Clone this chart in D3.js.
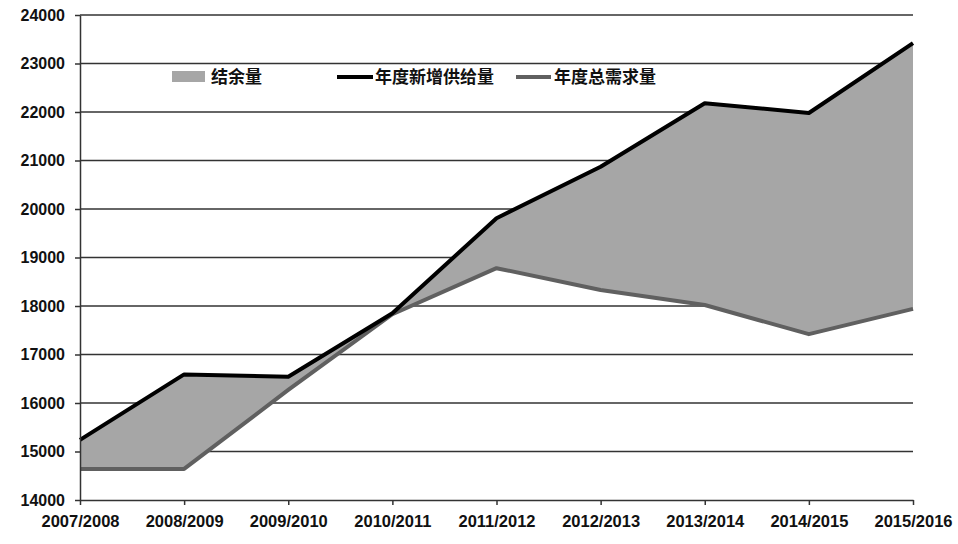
<!DOCTYPE html>
<html><head><meta charset="utf-8">
<script src="https://cdn.jsdelivr.net/npm/d3@7"></script>
<style>body{margin:0;background:#fff}svg{display:block}</style>
</head><body>
<svg id="c" width="958" height="544"></svg>
<script>
const categories = ["2007/2008","2008/2009","2009/2010","2010/2011","2011/2012","2012/2013","2013/2014","2014/2015","2015/2016"];
const supply = [15240,16590,16540,17850,19810,20870,22180,21980,23420];
const demand = [14640,14640,16270,17830,18780,18330,18020,17420,17940];
const yTicks = [14000,15000,16000,17000,18000,19000,20000,21000,22000,23000,24000];
const legendLabels = ["结余量","年度新增供给量","年度总需求量"];

const svg = d3.select("#c");
const x = d3.scalePoint().domain(categories).range([80,913]);
const y = d3.scaleLinear().domain([14000,24000]).range([500,15]);

// grid
svg.append("g").selectAll("line").data(yTicks.slice(1)).join("line")
  .attr("x1",80).attr("x2",913).attr("y1",d=>y(d)).attr("y2",d=>y(d))
  .attr("stroke","#333").attr("stroke-width",1.3);

const data = categories.map((c,i)=>({c,s:supply[i],d:demand[i]}));
// surplus area
svg.append("path").datum(data)
  .attr("d", d3.area().x(d=>x(d.c)).y0(d=>y(d.d)).y1(d=>y(d.s)))
  .attr("fill","#a6a6a6");

// lines
svg.append("path").datum(data)
  .attr("d", d3.line().x(d=>x(d.c)).y(d=>y(d.d)))
  .attr("fill","none").attr("stroke","#606060").attr("stroke-width",4).attr("stroke-linejoin","round");
svg.append("path").datum(data)
  .attr("d", d3.line().x(d=>x(d.c)).y(d=>y(d.s)))
  .attr("fill","none").attr("stroke","#000").attr("stroke-width",4).attr("stroke-linejoin","round");

// axes
const yAxis = svg.append("g").attr("transform","translate(80,0)")
  .call(d3.axisLeft(y).tickValues(yTicks).tickFormat(d3.format("d")).tickSize(5).tickPadding(10).tickSizeOuter(0));
const xAxis = svg.append("g").attr("transform","translate(0,500)")
  .call(d3.axisBottom(x).tickSize(5).tickPadding(10).tickSizeOuter(0));
[yAxis,xAxis].forEach(a=>{
  a.select(".domain").attr("stroke","#333").attr("stroke-width",1.5);
  a.selectAll(".tick line").attr("stroke","#333").attr("stroke-width",1.5);
  a.selectAll("text").attr("font-family","'Liberation Sans',Arial,sans-serif")
   .attr("font-weight","bold").attr("font-size","16px").attr("fill","#111");
});
xAxis.selectAll("text").attr("font-size","16.5px");

// legend
const lg = svg.append("g").attr("font-family","'Noto Sans CJK SC',sans-serif")
  .attr("font-weight","bold").attr("font-size","17px").attr("fill","#111");
lg.append("rect").attr("x",172).attr("y",71).attr("width",33).attr("height",11).attr("fill","#a6a6a6");
lg.append("text").attr("x",211).attr("y",77).attr("dy","0.35em").text(legendLabels[0]);
lg.append("line").attr("x1",337).attr("x2",373).attr("y1",77).attr("y2",77).attr("stroke","#000").attr("stroke-width",4);
lg.append("text").attr("x",375).attr("y",77).attr("dy","0.35em").text(legendLabels[1]);
lg.append("line").attr("x1",516).attr("x2",551).attr("y1",77).attr("y2",77).attr("stroke","#606060").attr("stroke-width",4);
lg.append("text").attr("x",554).attr("y",77).attr("dy","0.35em").text(legendLabels[2]);
</script>
</body></html>
